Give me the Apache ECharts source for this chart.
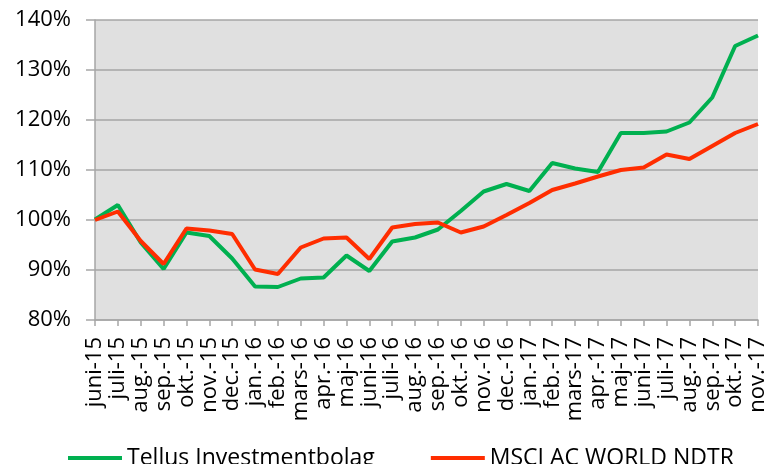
<!DOCTYPE html>
<html>
<head>
<meta charset="utf-8">
<script src="https://cdn.jsdelivr.net/npm/echarts@6/dist/echarts.min.js"></script>
<style>
  html, body { margin: 0; padding: 0; background: #fff; }
  #chart { width: 769px; height: 464px; }
</style>
</head>
<body>
<div id="chart"></div>
<script>
// month labels as printed on the axis
const months = ['juni-15', 'juli-15', 'aug.-15', 'sep.-15', 'okt.-15', 'nov.-15', 'dec.-15',
    'jan.-16', 'feb.-16', 'mars-16', 'apr.-16', 'maj-16', 'juni-16', 'juli-16', 'aug.-16',
    'sep.-16', 'okt.-16', 'nov.-16', 'dec.-16', 'jan.-17', 'feb.-17', 'mars-17', 'apr.-17',
    'maj-17', 'juni-17', 'juli-17', 'aug.-17', 'sep.-17', 'okt.-17', 'nov.-17'];

// indexed values, in percent
const tellus = [100.1, 103.0, 95.5, 90.2, 97.5, 96.8, 92.3, 86.7, 86.6, 88.3, 88.5, 92.9,
    89.8, 95.7, 96.5, 98.1, 101.8, 105.7, 107.2, 105.8, 111.4, 110.3, 109.6, 117.4, 117.4,
    117.7, 119.5, 124.5, 134.8, 136.9];
const msci = [100.0, 101.7, 95.8, 91.2, 98.3, 97.9, 97.2, 90.1, 89.2, 94.5, 96.3, 96.5,
    92.2, 98.5, 99.2, 99.5, 97.5, 98.7, 101.0, 103.4, 106.0, 107.3, 108.7, 110.0, 110.5,
    113.1, 112.2, 114.8, 117.4, 119.2];

const seriesNames = ['Tellus Investmentbolag', 'MSCI AC WORLD NDTR'];
const yMin = 80, yMax = 140, yStep = 10;

const font = '"Open Sans", "Noto Sans", sans-serif';

const myChart = echarts.init(document.getElementById('chart'));

const option = {
    animation: false,
    backgroundColor: '#ffffff',
    grid: {
        left: 95,
        right: 9,
        top: 20,
        bottom: 144,
        show: true,
        backgroundColor: '#E0E0E0',
        borderWidth: 0
    },
    legend: {
        data: seriesNames,
        left: 63,
        top: 439,
        icon: 'rect',
        itemWidth: 54,
        itemHeight: 4,
        itemGap: 56,
        itemTextGap: 5,
        textStyle: { fontFamily: font, fontSize: 23, color: '#000', lineHeight: 28 }
    },
    xAxis: {
        type: 'category',
        data: months,
        boundaryGap: false,
        axisLine: { lineStyle: { color: '#A6A6A6', width: 1.5 } },
        axisTick: { show: true, interval: 0, length: 6, lineStyle: { color: '#A6A6A6', width: 1.5 } },
        axisLabel: {
            interval: 0,
            rotate: 90,
            margin: 17,
            fontFamily: font,
            fontSize: 22,
            color: '#000'
        },
        splitLine: { show: false }
    },
    yAxis: {
        type: 'value',
        min: yMin,
        max: yMax,
        interval: yStep,
        axisLine: { show: true, lineStyle: { color: '#A6A6A6', width: 1.5 } },
        axisTick: { show: true, length: 9, lineStyle: { color: '#A6A6A6', width: 1.5 } },
        axisLabel: {
            formatter: '{value}%',
            margin: 24,
            fontFamily: font,
            fontSize: 22,
            color: '#000'
        },
        splitLine: { show: true, lineStyle: { color: '#A6A6A6', width: 1.5 } }
    },
    series: [
        {
            name: seriesNames[0],
            type: 'line',
            data: tellus,
            showSymbol: false,
            symbol: 'none',
            color: '#00B050',
            lineStyle: { width: 4, color: '#00B050' }
        },
        {
            name: seriesNames[1],
            type: 'line',
            data: msci,
            showSymbol: false,
            symbol: 'none',
            color: '#FF2D00',
            lineStyle: { width: 4, color: '#FF2D00' }
        }
    ]
};

myChart.setOption(option);
</script>
</body>
</html>
